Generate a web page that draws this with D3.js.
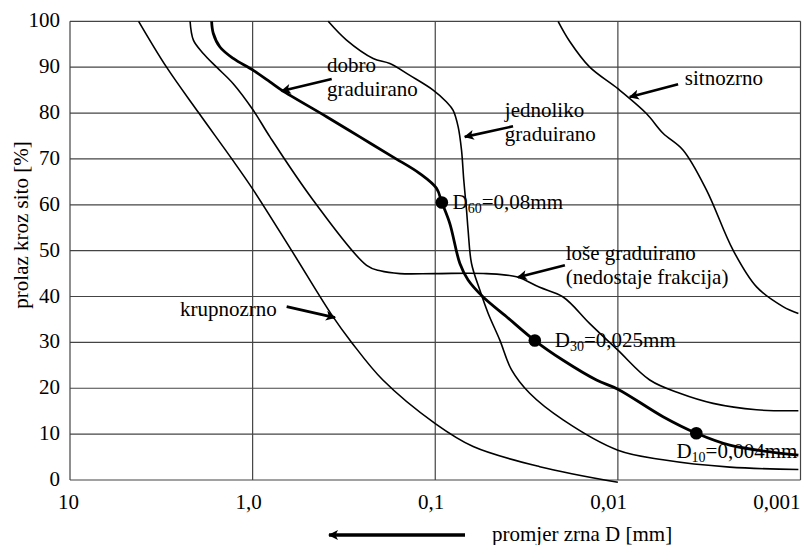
<!DOCTYPE html>
<html><head><meta charset="utf-8">
<script src="https://cdn.jsdelivr.net/npm/d3@7"></script>
<style>
html,body{margin:0;padding:0;background:#fff;}
</style></head>
<body>
<svg id="chart" width="804" height="545" font-family="'Liberation Serif', Tinos, 'Times New Roman', 'DejaVu Serif', serif"></svg>
<script>
// ---- data ----
const xTickValues = [10, 1, 0.1, 0.01, 0.001];
const xTickLabels = ["10", "1,0", "0,1", "0,01", "0,001"];
const yTickValues = [0,10,20,30,40,50,60,70,80,90,100];

// grain size D [mm] and percent passing
const krupnozrnoD = [4.21, 2.96, 1.97, 1.30, 0.99, 0.611, 0.369, 0.287, 0.1935, 0.1, 0.062, 0.0268, 0.01];
const krupnozrnoP = [100, 90, 80, 70, 63.2, 50, 36, 30, 21.8, 12.3, 7.3, 2.9, -0.5];

const loseD = [2.20, 2.11, 1.864, 1.574, 1.277, 0.992, 0.804, 0.466, 0.2377, 0.2, 0.156, 0.1, 0.0524, 0.0359, 0.0268, 0.01995, 0.01425, 0.01, 0.00669, 0.00458, 0.00301, 0.00174, 0.001027];
const loseP = [100, 95.9, 93, 90, 86.4, 80.6, 74.8, 61, 46.8, 45.6, 45, 45, 45, 44.3, 42, 39.9, 34.1, 28.3, 21.8, 18.9, 16.7, 15.3, 15.1];

const dobroD = [1.677, 1.643, 1.51, 1.277, 0.992, 0.804, 0.694, 0.3936, 0.2587, 0.170, 0.1214, 0.0984, 0.092, 0.0832, 0.0733, 0.0661, 0.0547, 0.0407, 0.0285, 0.01995, 0.0131, 0.01, 0.00566, 0.00372, 0.00244, 0.001027];
const dobroP = [100, 97.4, 94.4, 91.9, 89.3, 86.8, 85, 79.2, 74.8, 70.4, 66.8, 63.6, 60.5, 55.9, 47.2, 43.6, 39.9, 35.6, 30.4, 26.1, 21.8, 19.8, 13.8, 10.2, 7.6, 5.4];

const jednolikoD = [0.3857, 0.306, 0.2188, 0.1772, 0.1377, 0.1027, 0.0867, 0.0798, 0.0749, 0.0718, 0.0698, 0.0674, 0.0661, 0.0633, 0.0570, 0.0513, 0.0443, 0.0382, 0.0304, 0.01995, 0.01, 0.00566, 0.00244, 0.001027];
const jednolikoP = [100, 95.9, 91.9, 90.8, 88.2, 85, 82.4, 80.6, 77, 71.9, 65.4, 58.8, 54.5, 47.2, 41.4, 36.3, 30.5, 24, 18.9, 13.1, 6.5, 4.4, 2.8, 2.3];

const sitnozrnoD = [0.02125, 0.01834, 0.01425, 0.01, 0.00698, 0.00566, 0.00439, 0.00327, 0.00234, 0.00174, 0.001247, 0.001027];
const sitnozrnoP = [100, 95.6, 90, 85.3, 79.9, 75.6, 71.9, 63.2, 50.1, 42.1, 37.8, 36.3];

const dotLabels = ["60", "30", "10"];
const dotTexts = ["=0,08mm", "=0,025mm", "=0,004mm"];
const dotD = [0.092, 0.0285, 0.00372];
const dotP = [60.5, 30.4, 10.2];
const dotTextD = [0.0804, 0.02215, 0.00478];
const dotTextP = [59, 29, 4.8];

const annLines = [["dobro", "graduirano"], ["jednoliko", "graduirano"], ["sitnozrno"], ["loše graduirano", "(nedostaje frakcija)"], ["krupnozrno"]];
const annTextD = [0.392, 0.0416, 0.0043, 0.0193, 2.5];
const annTextP = [88.9, 79.1, 86.1, 47.9, 35.7];
const arrowFromD = [0.369, 0.0375, 0.00468, 0.0195, 0.651];
const arrowFromP = [87.4, 77.1, 86.3, 46.8, 37.8];
const arrowToD = [0.694, 0.0689, 0.00861, 0.0353, 0.354];
const arrowToP = [84.8, 74.8, 83.5, 44.2, 35.4];

const xTitle = "promjer zrna D [mm]";
const yTitle = "prolaz kroz sito [%]";

// ---- chart ----
const svg = d3.select("#chart");
const L = 70, R = 800.5, T = 21.3, B = 480;
const x = d3.scaleLog().domain([10, 0.001]).range([L, R]);
const y = d3.scaleLinear().domain([0, 100]).range([B, T]);
const FS = 21;

// grid
const grid = svg.append("g").attr("stroke", "#444").attr("stroke-width", 1.2);
grid.selectAll("line.h").data(yTickValues).join("line")
  .attr("x1", L).attr("x2", R).attr("y1", d => y(d)).attr("y2", d => y(d));
grid.selectAll("line.v").data(xTickValues).join("line")
  .attr("y1", T).attr("y2", B).attr("x1", d => x(d)).attr("x2", d => x(d));

// tick labels
svg.append("g").selectAll("text").data(yTickValues).join("text")
  .attr("x", L - 10).attr("y", d => y(d) + 6).attr("text-anchor", "end")
  .attr("font-size", FS).text(d => d);
svg.append("g").selectAll("text").data(xTickValues).join("text")
  .attr("x", d => Math.min(x(d) + 9, R)).attr("y", 509).attr("text-anchor", "end")
  .attr("font-size", FS).text((d, i) => xTickLabels[i]);

// axis titles
svg.append("text").attr("transform", "translate(28,225) rotate(-90)")
  .attr("text-anchor", "middle").attr("font-size", FS).text(yTitle);
svg.append("text").attr("x", 492).attr("y", 541).attr("font-size", FS).text(xTitle);

// defs arrowhead
const defs = svg.append("defs");
defs.append("marker").attr("id", "ah").attr("viewBox", "0 0 10 10")
  .attr("refX", 9).attr("refY", 5).attr("markerWidth", 14).attr("markerHeight", 10)
  .attr("markerUnits", "userSpaceOnUse").attr("orient", "auto")
  .append("path").attr("d", "M0,0 L10,5 L0,10 L2.5,5 Z").attr("fill", "#000");

// bottom arrow
svg.append("line").attr("x1", 465).attr("y1", 535).attr("x2", 329).attr("y2", 535)
  .attr("stroke", "#000").attr("stroke-width", 3.4).attr("marker-end", "url(#ah)");

// curves
const line = d3.line().x(d => x(d[0])).y(d => y(d[1])).curve(d3.curveCatmullRom.alpha(0.5));
const zip = (a, b) => a.map((v, i) => [v, b[i]]);
const curves = [
  {pts: zip(krupnozrnoD, krupnozrnoP), w: 1.6},
  {pts: zip(loseD, loseP), w: 1.6},
  {pts: zip(jednolikoD, jednolikoP), w: 1.6},
  {pts: zip(sitnozrnoD, sitnozrnoP), w: 1.6},
  {pts: zip(dobroD, dobroP), w: 2.8}
];
svg.append("g").selectAll("path").data(curves).join("path")
  .attr("d", c => line(c.pts)).attr("fill", "none").attr("stroke", "#000")
  .attr("stroke-width", c => c.w).attr("stroke-linejoin", "round");

// dots
svg.append("g").selectAll("circle").data(dotD).join("circle")
  .attr("cx", d => x(d)).attr("cy", (d, i) => y(dotP[i])).attr("r", 6.3).attr("fill", "#000");

// dot labels
dotLabels.forEach((lab, i) => {
  const t = svg.append("text").attr("x", x(dotTextD[i])).attr("y", y(dotTextP[i])).attr("font-size", FS);
  t.append("tspan").text("D");
  t.append("tspan").attr("font-size", 14).attr("dy", 4).text(lab);
  t.append("tspan").attr("dy", -4).text(dotTexts[i]);
});

// annotations
annLines.forEach((lines, i) => {
  const t = svg.append("text").attr("x", x(annTextD[i])).attr("y", y(annTextP[i])).attr("font-size", FS);
  lines.forEach((s, j) => t.append("tspan").attr("x", x(annTextD[i])).attr("dy", j === 0 ? 0 : 24).text(s));
  svg.append("line")
    .attr("x1", x(arrowFromD[i])).attr("y1", y(arrowFromP[i]))
    .attr("x2", x(arrowToD[i])).attr("y2", y(arrowToP[i]))
    .attr("stroke", "#000").attr("stroke-width", 2.6).attr("marker-end", "url(#ah)");
});
</script>
</body></html>
